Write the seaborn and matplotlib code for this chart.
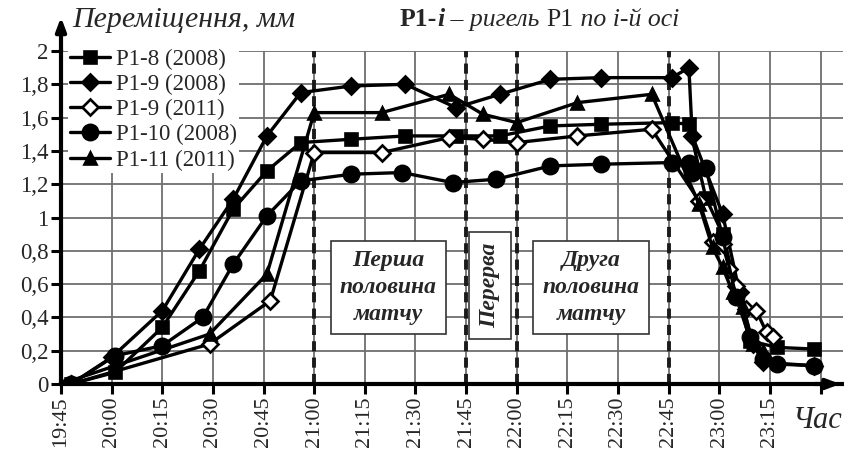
import matplotlib
matplotlib.use("Agg")
import matplotlib.pyplot as plt
import seaborn as sns
import pandas as pd

# readings taken off the reference chart
names = ["P1-8 (2008)", "P1-9 (2008)", "P1-9 (2011)", "P1-10 (2008)", "P1-11 (2011)"]

t_p1_8 = ["19:48", "20:01", "20:15", "20:26", "20:36", "20:46", "20:56", "21:11", "21:27", "21:42",
          "21:55", "22:10", "22:25", "22:46", "22:51", "22:56", "23:01", "23:09", "23:17", "23:28"]
v_p1_8 = [0, 0.07, 0.34, 0.68, 1.05, 1.28, 1.45, 1.47, 1.49, 1.49,
          1.49, 1.55, 1.56, 1.57, 1.56, 1.12, 0.90, 0.26, 0.22, 0.21]

t_p1_9_08 = ["19:48", "20:00", "20:15", "20:26", "20:36", "20:46", "20:56", "21:11", "21:27", "21:42", "21:55",
             "22:10", "22:25", "22:46", "22:51", "22:52", "23:01", "23:06", "23:10", "23:13", "23:28"]
v_p1_9_08 = [0, 0.16, 0.44, 0.81, 1.11, 1.49, 1.75, 1.79, 1.80, 1.66, 1.74,
             1.83, 1.84, 1.84, 1.90, 1.49, 1.02, 0.55, 0.24, 0.13, 0.11]

t_p1_9_11 = ["19:48", "20:29", "20:47", "21:00", "21:20", "21:40", "21:50", "22:00", "22:18", "22:40",
             "22:54", "22:58", "23:01", "23:03", "23:05", "23:08", "23:11", "23:14", "23:16"]
v_p1_9_11 = [0, 0.24, 0.50, 1.39, 1.39, 1.48, 1.47, 1.45, 1.49, 1.53,
             1.10, 0.85, 0.84, 0.69, 0.59, 0.45, 0.44, 0.31, 0.28]

t_p1_10 = ["19:48", "20:01", "20:15", "20:27", "20:36", "20:46", "20:56", "21:11", "21:26", "21:41", "21:54", "22:10",
           "22:25", "22:46", "22:51", "22:52", "22:56", "23:01", "23:05", "23:09", "23:13", "23:17", "23:28"]
v_p1_10 = [0, 0.17, 0.23, 0.40, 0.72, 1.01, 1.22, 1.26, 1.27, 1.21, 1.23, 1.31,
           1.32, 1.33, 1.33, 1.27, 1.30, 0.88, 0.52, 0.28, 0.15, 0.12, 0.11]

t_p1_11 = ["19:45", "20:29", "20:46", "21:00", "21:20", "21:40", "21:50", "22:00", "22:18", "22:40",
           "22:54", "22:58", "23:01", "23:04", "23:07", "23:10", "23:13"]
v_p1_11 = [0, 0.30, 0.66, 1.63, 1.63, 1.74, 1.62, 1.57, 1.69, 1.74,
           1.08, 0.82, 0.70, 0.55, 0.46, 0.24, 0.20]

tick_times = ["19:45", "20:00", "20:15", "20:30", "20:45", "21:00", "21:15", "21:30",
              "21:45", "22:00", "22:15", "22:30", "22:45", "23:00", "23:15", "23:30"]
y_ticks = [0, 0.2, 0.4, 0.6, 0.8, 1, 1.2, 1.4, 1.6, 1.8, 2]
match_lines = ["21:00", "21:45", "22:00", "22:45"]


def to_min(times):
    t = pd.to_datetime(pd.Series(times), format="%H:%M")
    return (t - pd.Timestamp("1900-01-01 19:45")).dt.total_seconds() / 60


frames = []
for name, t, v in zip(names, [t_p1_8, t_p1_9_08, t_p1_9_11, t_p1_10, t_p1_11],
                      [v_p1_8, v_p1_9_08, v_p1_9_11, v_p1_10, v_p1_11]):
    frames.append(pd.DataFrame({"min": to_min(t), "value": v, "series": name}))
df = pd.concat(frames, ignore_index=True)

sns.set_style("white")
plt.rcParams["font.family"] = ["Liberation Serif", "DejaVu Serif"]

fig = plt.figure(figsize=(8.44, 4.5), dpi=100)
ax = fig.add_axes([61 / 844, 1 - 384 / 450, 1 - 61 / 844 - 0.001, 333 / 450])

styles = {
    "P1-8 (2008)": dict(marker="s", mfc="black", ms=8.5),
    "P1-9 (2008)": dict(marker="D", mfc="black", ms=8),
    "P1-9 (2011)": dict(marker="D", mfc="white", ms=8),
    "P1-10 (2008)": dict(marker="o", mfc="black", ms=11),
    "P1-11 (2011)": dict(marker="^", mfc="black", ms=8.5),
}
for name in names:
    st = styles[name]
    sns.lineplot(data=df[df.series == name], x="min", y="value", ax=ax, label=name,
                 estimator=None, sort=False, color="black", lw=2.4,
                 marker=st["marker"], markersize=st["ms"], markerfacecolor=st["mfc"],
                 markeredgecolor="black", markeredgewidth=1.9, zorder=3)

for t in to_min(match_lines):
    ax.axvline(t, color="#1a1a1a", lw=2.8, ls=(0, (2.6, 1.6)), zorder=2)

ticks_x = to_min(tick_times)
ax.set_xticks(ticks_x)
ax.set_xticklabels(tick_times[:-1] + [""], rotation=90, fontsize=16)
ax.set_yticks(y_ticks)
ax.set_yticklabels([("%g" % y).replace(".", ",") for y in y_ticks], fontsize=16.5)
ax.set_xlim(0, 231.7)
ax.set_ylim(0, 2)
ax.grid(True, color="#6e6e6e", lw=1.3, zorder=0)
ax.set_axisbelow(True)
ax.set_xlabel("")
ax.set_ylabel("")
ax.tick_params(axis="both", which="major", direction="out", length=7, width=2.2,
               color="black", pad=2, left=True, bottom=True)

for s in ["top", "right"]:
    ax.spines[s].set_visible(False)
for s in ["left", "bottom"]:
    ax.spines[s].set_linewidth(3)
    ax.spines[s].set_color("black")
    ax.spines[s].set_zorder(4)

# axis arrows
ax.annotate("", xy=(0, 1.11), xytext=(0, 0.99), xycoords="axes fraction",
            arrowprops=dict(arrowstyle="-|>,head_width=0.3,head_length=0.8", color="black", lw=3),
            annotation_clip=False)
ax.annotate("", xy=(1.0, 0), xytext=(0.96, 0), xycoords="axes fraction",
            arrowprops=dict(arrowstyle="-|>,head_width=0.3,head_length=0.8", color="black", lw=3),
            annotation_clip=False)

leg = ax.legend(loc="upper left", bbox_to_anchor=(0.0, 1.035), fontsize=16.5, frameon=True,
                facecolor="white", edgecolor="none", framealpha=1, fancybox=False,
                handlelength=1.75, handletextpad=0.25, labelspacing=0.18, borderpad=0.1,
                borderaxespad=0.3)
leg.set_zorder(5)

box = dict(boxstyle="square,pad=0.4", facecolor="white", edgecolor="#333333", lw=1.2)
txt = dict(fontsize=17, fontweight="bold", fontstyle="italic", ha="center", va="center",
           zorder=6, linespacing=1.35)
ax.text(to_min(["21:22"])[0], 0.58, "Перша\nполовина\nматчу", bbox=box, **txt)
ax.text(to_min(["21:52"])[0], 0.59, "Перерва", rotation=90,
        bbox=dict(boxstyle="square,pad=0.45", facecolor="white", edgecolor="#333333", lw=1.2), **txt)
ax.text(to_min(["22:22"])[0], 0.58, "Друга\nполовина\nматчу", bbox=box, **txt)

fig.text(72 / 844, 1 - 20 / 450, "Переміщення, мм", fontsize=21.5, fontstyle="italic", va="center")
fig.text(793 / 844, 1 - 420 / 450, "Час", fontsize=22, fontstyle="italic", va="center")

# title built from pieces with different styles
t1 = fig.text(400 / 844, 1 - 26 / 450, "P1-", fontsize=18.5, fontweight="bold", va="baseline")
t2 = ax.annotate("i", xy=(1, 0), xycoords=t1, va="bottom", fontsize=18.5,
                 fontweight="bold", fontstyle="italic", annotation_clip=False)
t3 = ax.annotate(" – ригель ", xy=(1, 0), xycoords=t2, va="bottom", fontsize=18.5,
                 fontstyle="italic", annotation_clip=False)
t4 = ax.annotate("P1", xy=(1, 0), xycoords=t3, va="bottom", fontsize=18.5, annotation_clip=False)
ax.annotate(" по і-й осі", xy=(1, 0), xycoords=t4, va="bottom", fontsize=18.5,
            fontstyle="italic", annotation_clip=False)

fig.savefig("out.png", dpi=100)
